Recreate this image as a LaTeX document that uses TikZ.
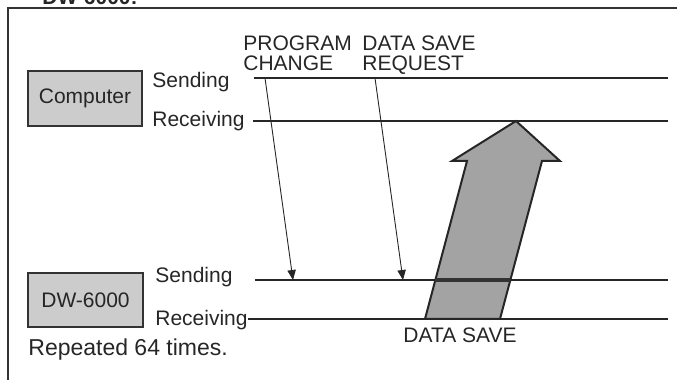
\documentclass[tikz,border=0pt]{standalone}
\usepackage{fontspec}
\setmainfont{Liberation Sans}
\usetikzlibrary{arrows.meta,positioning}

\begin{document}
\begin{tikzpicture}[x=0.5pt, y=-0.5pt,
  font=\fontsize{10.5}{10}\selectfont, text=black!85,
  unit/.style={draw=black!80, line width=1pt, fill=black!20,
    minimum width=57pt, minimum height=27.5pt, inner sep=0pt},
  lbl/.style={anchor=west, inner sep=0pt},
  tline/.style={line width=0.55pt, black!85},
  msg/.style={-{Triangle[length=5pt, width=4.2pt]}, line width=0.45pt, black!85},
  bigarrow/.style={draw=black!85, line width=1pt, fill=black!36, line join=miter}]
\useasboundingbox (0,0) rectangle (677,380);
% frame
\draw[line width=0.7pt, black!80] (8,380) -- (8,8) -- (677,8);
\node[anchor=base west, inner sep=0pt, font=\fontsize{10.5}{10}\selectfont\bfseries] (title) at (42,4.5) {DW-6000:};
% computer
\node[unit] (comp) at (85,98.5) {Computer};
\node[lbl] (compS) at (152,82) {Sending};
\node[lbl] (compR) at (152,121) {Receiving};
\coordinate (compSa) at (254,78);
\coordinate (compSb) at (668,78);
\coordinate (compRa) at (253,121);
\coordinate (compRb) at (668,121);
\draw[tline] (compSa) -- (compSb);
\draw[tline] (compRa) -- (compRb);
% DW-6000
\node[unit, minimum width=57.5pt, minimum height=27pt] (dw) at (85.5,300) {DW-6000};
\node[lbl] (dwS) at (155,277) {Sending};
\node[lbl] (dwR) at (155,320) {Receiving};
\coordinate (dwSa) at (255,280);
\coordinate (dwSb) at (668,280);
\coordinate (dwRa) at (248,319);
\coordinate (dwRb) at (668,319);
% data save
\draw[bigarrow] (425,319) -- (467,161) -- (452,161) -- (516,121) -- (560,161)
  -- (542,161) -- (500,319) -- cycle;
\draw[tline] (dwSa) -- (dwSb);
\draw[tline] (dwRa) -- (dwRb);
\draw[line width=1.6pt, black!80] (435.4,280) -- (510.4,280);
\node[inner sep=0pt] (save) at (460,335) {DATA SAVE};
% messages
\node[anchor=north west, align=left, inner sep=0pt] (pc) at (243,35) {PROGRAM\\CHANGE};
\node[anchor=north west, align=left, inner sep=0pt] (dsr) at (362,35) {DATA SAVE\\REQUEST};
\coordinate (pcA) at (265,78);
\coordinate (pcB) at (293,280);
\coordinate (dsrA) at (375,78);
\coordinate (dsrB) at (403,280);
\draw[msg] (pcA) -- (pcB);
\draw[msg] (dsrA) -- (dsrB);
\node[anchor=west, inner sep=0pt, font=\fontsize{11.5}{12}\selectfont] (rep) at (28,350) {Repeated 64 times.};
\end{tikzpicture}
\end{document}
